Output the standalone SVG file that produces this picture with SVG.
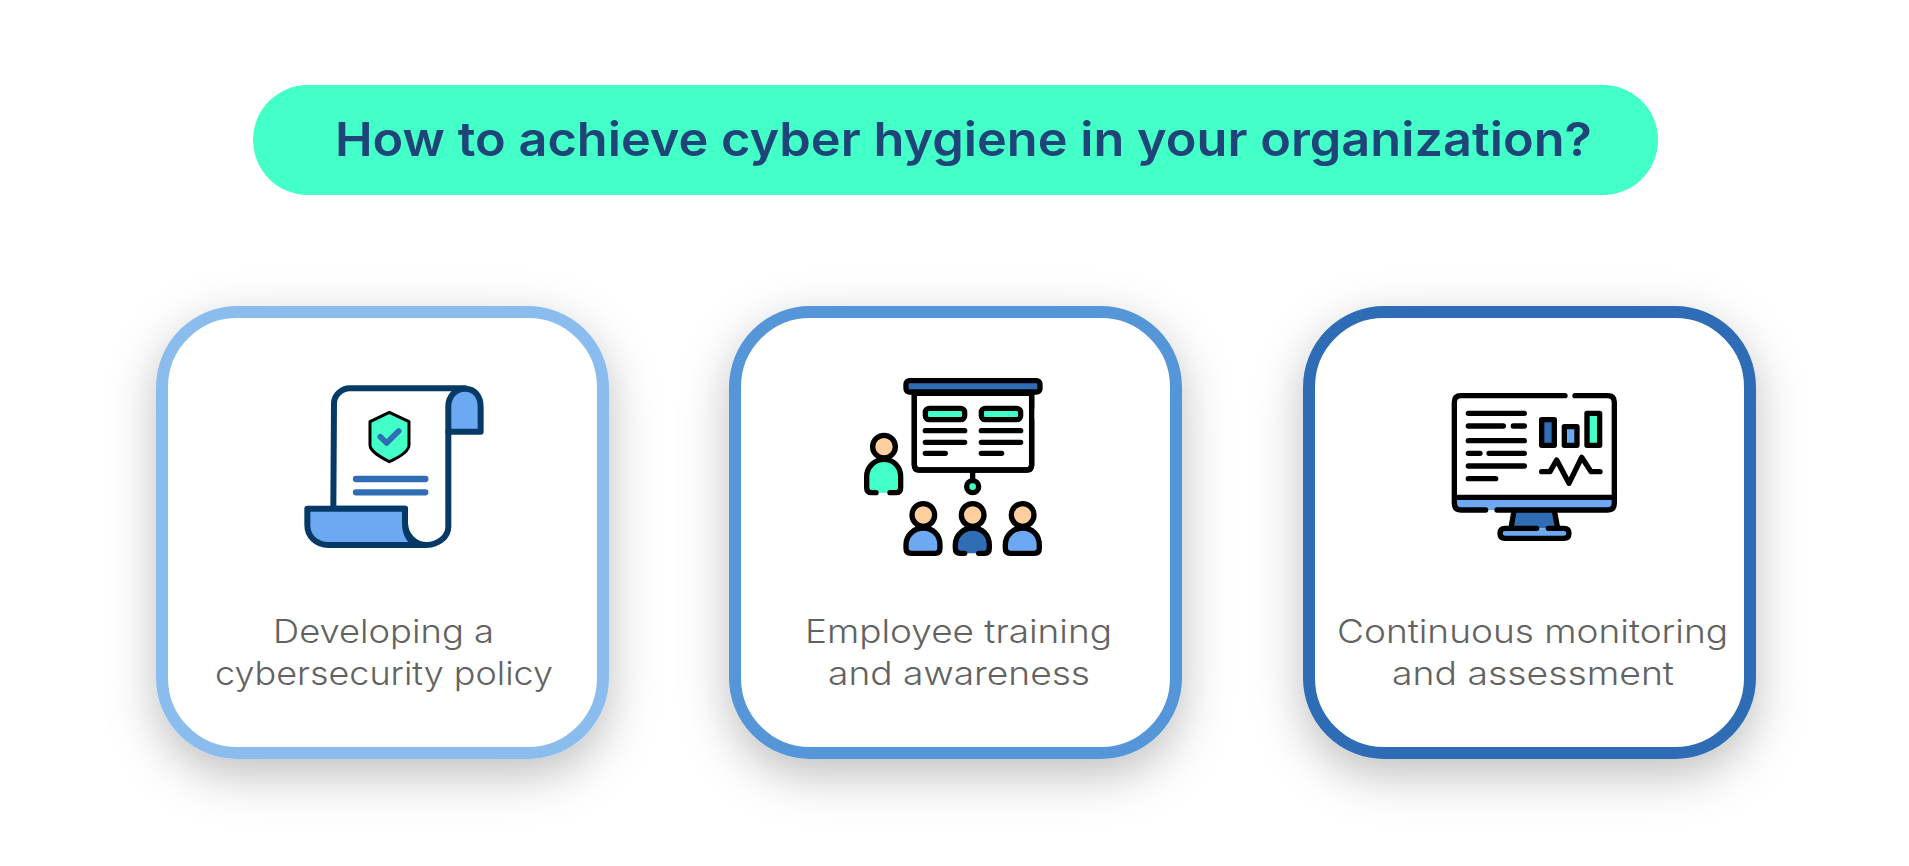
<svg xmlns="http://www.w3.org/2000/svg" width="1909" height="866" viewBox="0 0 1909 866">
<style>
.title{font-family:Inter,"Liberation Sans",sans-serif;font-weight:600;font-size:47px;fill:#1f4477}
.lbl{font-family:Inter,"Liberation Sans",sans-serif;font-weight:350;font-size:33px;fill:#626262;text-anchor:middle}
.card{fill:#fff;stroke-width:12;filter:url(#sh)}
.k{stroke:#000;stroke-width:16;stroke-linecap:round;stroke-linejoin:round}
.l{fill:none}
.mint{fill:#43ffc8}.lb{fill:#6ca9f2}.db{fill:#2f6db5}.sk{fill:#ffcf9f}.w{fill:#fff}
.n{stroke:#063a66;stroke-width:18;stroke-linejoin:round;stroke-linecap:round}
</style>
<defs>
<filter id="sh" x="-30%" y="-30%" width="160%" height="170%"><feDropShadow dx="0" dy="16" stdDeviation="24" flood-color="#000" flood-opacity="0.25"/></filter>
<g id="presenter"><path class="k" d="M-24 0H-37Q-52 0-52-15V-48C-52-78-27-100 0-100C28-100 50-78 50-48V-15Q50 0 36 0H18"/><circle class="k sk" cx="0" cy="-138" r="34"/></g>
<g id="open"><path class="k" d="M-24 0H-37Q-52 0-52-15V-25C-52-55-27-76 0-76C28-76 50-55 50-25V-15Q50 0 36 0H18"/><circle class="k sk" cx="0" cy="-115" r="34"/></g>
<g id="closed"><path class="k" d="M-37 0Q-52 0-52-15V-25C-52-55-27-76 0-76C28-76 50-55 50-25V-15Q50 0 36 0Z"/><circle class="k sk" cx="0" cy="-115" r="34"/></g>
</defs>
<rect width="1909" height="866" fill="#fff"/>
<g id="title">
<rect x="253" y="85" width="1405" height="110" rx="55" fill="#43ffc8"/>
<text class="title" x="335" y="156" textLength="1257" lengthAdjust="spacingAndGlyphs">How to achieve cyber hygiene in your organization?</text>
</g>
<g id="connectors"></g>
<g id="card1">
<rect class="card" x="162" y="312" width="441" height="441" rx="75" stroke="#8abdee"/>
<g transform="translate(290 370) scale(.3333)">
<path class="n w" d="M130 416L132 100C132 75 155 55 180 55H525L475 185V470C475 500 445 525 410 525C375 525 345 495 345 460V416Z"/>
<path class="n lb" d="M475 185V110C475 80 495 56 525 56C555 56 572 80 572 110V185Z"/>
<path class="n lb" d="M52 416H345V460C345 485 355 510 378 525H115C80 525 52 500 52 465Z"/>
<path fill="none" stroke="#063a66" stroke-width="18" d="M378 525H410"/>
<path class="mint" stroke="#000" stroke-width="9" stroke-linejoin="round" d="M298 127L357 155V225C357 245 320 265 298 275C275 263 240 245 240 225V155Z"/>
<path fill="none" stroke="#2f6db5" stroke-width="17" stroke-linecap="round" stroke-linejoin="round" d="M271 200L290 219L326 183"/>
<path fill="none" stroke="#2f6db5" stroke-width="19" stroke-linecap="round" d="M198 327H406M198 367H406"/>
</g>
<text class="lbl" x="383.5" y="643" textLength="221" lengthAdjust="spacingAndGlyphs">Developing a</text>
<text class="lbl" x="384" y="685" textLength="338" lengthAdjust="spacingAndGlyphs">cybersecurity policy</text>
</g>
<g id="card2">
<rect class="card" x="735" y="312" width="441" height="441" rx="75" stroke="#5596d9"/>
<g transform="translate(850 365) scale(.3333)">
<path class="k w" d="M193 85V300Q193 315 208 315H530Q545 315 545 300V85Z" stroke="none"/>
<path class="k l" d="M193 85V300Q193 315 208 315H530Q545 315 545 300V165M545 85V130"/>
<rect class="k db" x="168" y="47" width="402" height="34" rx="10"/>
<rect class="k mint" x="226" y="130" width="118" height="34" rx="12"/>
<rect class="k mint" x="394" y="130" width="118" height="34" rx="12"/>
<path class="k l" d="M226 197H344M394 197H512M226 232H344M394 232H512M226 265H286M394 265H455M368 320V345"/>
<circle class="k mint" cx="368" cy="365" r="18"/>
<use href="#presenter" x="102" y="383" class="mint"/>
<use href="#closed" x="220" y="565" class="lb"/>
<use href="#open" x="368" y="565" class="db"/>
<use href="#closed" x="518" y="565" class="lb"/>
</g>
<text class="lbl" x="958.5" y="643" textLength="307" lengthAdjust="spacingAndGlyphs">Employee training</text>
<text class="lbl" x="959" y="685" textLength="262" lengthAdjust="spacingAndGlyphs">and awareness</text>
</g>
<g id="card3">
<rect class="card" x="1309" y="312" width="441" height="441" rx="75" stroke="#2f6db5"/>
<g transform="translate(1435 380) scale(.3333)">
<path class="w" d="M58 67Q58 47 78 47H518Q538 47 538 67V352H58Z"/>
<path class="lb" d="M58 352H538V370Q538 390 518 390H78Q58 390 58 370Z"/>
<path class="db" d="M237 392L228 445H368L358 392Z"/>
<path class="k l" d="M237 392L228 445M358 392L368 445"/>
<rect class="lb" x="195" y="445" width="207" height="30" rx="14"/>
<path class="k l" d="M390 47H78Q58 47 58 67V370Q58 390 78 390H152M186 390H518Q538 390 538 370V67Q538 47 518 47H420M58 352H538M305 445H210Q195 445 195 460Q195 475 210 475H387Q402 475 402 460Q402 445 387 445H340"/>
<path class="k l" d="M100 100H268M100 138H205M235 138H268M100 182H268M100 220H135M162 220H268M100 258H268M100 296H182"/>
<rect class="k db" x="320" y="119" width="38" height="77"/>
<rect class="k lb" x="388" y="140" width="38" height="56"/>
<rect class="k mint" x="456" y="100" width="38" height="96"/>
<path class="k l" d="M320 275H345L365 240L402 310L440 232L468 275H495"/>
</g>
<text class="lbl" x="1532.5" y="643" textLength="391" lengthAdjust="spacingAndGlyphs">Continuous monitoring</text>
<text class="lbl" x="1533" y="685" textLength="282" lengthAdjust="spacingAndGlyphs">and assessment</text>
</g>
</svg>
